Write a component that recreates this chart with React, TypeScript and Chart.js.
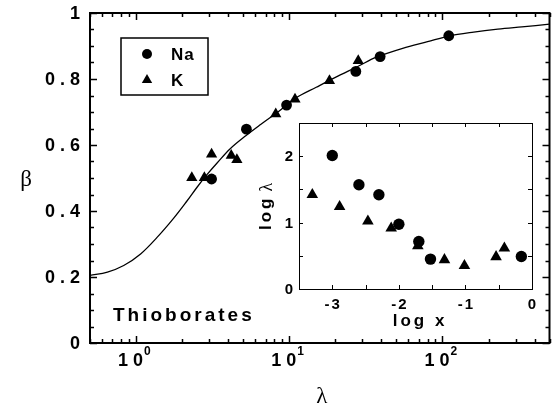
import React, { useEffect, useRef } from 'react';
import { Chart, registerables } from 'chart.js';

Chart.register(...registerables);

// ---- Main plot data (β vs λ) ----
const naLambda = [3.11, 5.25, 9.6, 27.2, 39.2, 110];
const naBeta = [0.497, 0.648, 0.721, 0.823, 0.868, 0.931];
const kLambda = [2.31, 2.79, 3.11, 4.18, 4.55, 8.16, 10.9, 18.3, 28.2];
const kBeta = [0.501, 0.501, 0.572, 0.568, 0.555, 0.694, 0.739, 0.795, 0.855];
const curveLambda = [0.5, 0.65, 0.83, 1.07, 1.37, 1.75, 2.13, 2.5, 2.9, 3.4, 4.1, 5.2, 6.5, 8.6, 11, 15, 20, 28, 37, 55, 80, 110, 160, 230, 330, 500];
const curveBeta = [0.205, 0.215, 0.235, 0.27, 0.32, 0.377, 0.428, 0.472, 0.51, 0.547, 0.588, 0.628, 0.662, 0.703, 0.742, 0.775, 0.805, 0.838, 0.866, 0.893, 0.913, 0.93, 0.942, 0.951, 0.958, 0.966];

// ---- Inset data (log λ vs log x) ----
const insetNaLogX = [-3.0, -2.6, -2.3, -2.0, -1.7, -1.525, -0.16];
const insetNaLogLambda = [2.01, 1.57, 1.42, 0.975, 0.715, 0.45, 0.49];
const insetKLogX = [-3.3, -2.89, -2.465, -2.115, -1.715, -1.315, -1.015, -0.54, -0.415];
const insetKLogLambda = [1.42, 1.24, 1.02, 0.915, 0.65, 0.44, 0.35, 0.485, 0.615];

// ---- Tick labels ----
const mainYTickValues = [0, 0.2, 0.4, 0.6, 0.8, 1];
const mainYTickLabels = ['0', '0.2', '0.4', '0.6', '0.8', '1'];
const mainXTickValues = [1, 10, 100];
const mainXTickExponents = ['0', '1', '2'];
const insetXTickValues = [-3, -2, -1, 0];
const insetXTickLabels = ['-3', '-2', '-1', '0'];
const insetYTickValues = [0, 1, 2];
const insetYTickLabels = ['0', '1', '2'];

const FONT = '"Liberation Sans", Arial, sans-serif';
const SERIF = '"Liberation Serif", "DejaVu Serif", serif';

function drawSpaced(ctx: CanvasRenderingContext2D, text: string, x: number, y: number, align: 'left' | 'right' | 'center', spacing: number) {
  ctx.save();
  (ctx as any).letterSpacing = spacing + 'px';
  ctx.textAlign = 'left';
  const w = ctx.measureText(text).width - spacing;
  let sx = x;
  if (align === 'right') sx = x - w;
  else if (align === 'center') sx = x - w / 2;
  ctx.fillText(text, sx, y);
  ctx.restore();
  return w;
}

function drawCircle(ctx: CanvasRenderingContext2D, x: number, y: number, r: number) {
  ctx.beginPath();
  ctx.arc(x, y, r, 0, Math.PI * 2);
  ctx.fill();
}

function drawTriangle(ctx: CanvasRenderingContext2D, x: number, y: number, r: number) {
  ctx.beginPath();
  for (let i = 0; i < 3; i++) {
    const a = -Math.PI / 2 + (i * 2 * Math.PI) / 3;
    const px = x + r * Math.cos(a);
    const py = y + r * Math.sin(a);
    if (i === 0) ctx.moveTo(px, py);
    else ctx.lineTo(px, py);
  }
  ctx.closePath();
  ctx.fill();
}

const mainPlugin = {
  id: 'mainDecor',
  afterDraw(chart: any) {
    const ctx: CanvasRenderingContext2D = chart.ctx;
    const { left, right, top, bottom } = chart.chartArea;
    const xs = chart.scales.x;
    const ys = chart.scales.y;
    ctx.save();
    ctx.strokeStyle = '#000';
    ctx.fillStyle = '#000';
    ctx.lineWidth = 2;
    ctx.strokeRect(left, top, right - left, bottom - top);
    ctx.lineWidth = 1.5;
    for (let i = 0; i <= 20; i++) {
      const v = i * 0.05;
      const py = Math.round(ys.getPixelForValue(v)) + 0.5;
      const len = i % 4 === 0 ? 7 : 4;
      ctx.beginPath();
      ctx.moveTo(left, py); ctx.lineTo(left + len, py);
      ctx.moveTo(right, py); ctx.lineTo(right - len, py);
      ctx.stroke();
    }
    for (let d = -1; d <= 2; d++) {
      for (let m = 1; m <= 9; m++) {
        const v = m * Math.pow(10, d);
        if (v < xs.min - 1e-9 || v > xs.max + 1e-9) continue;
        const px = Math.round(xs.getPixelForValue(v)) + 0.5;
        const len = m === 1 ? 7 : 4;
        ctx.beginPath();
        ctx.moveTo(px, bottom); ctx.lineTo(px, bottom - len);
        ctx.moveTo(px, top); ctx.lineTo(px, top + len);
        ctx.stroke();
      }
    }
    ctx.font = 'bold 18px ' + FONT;
    ctx.textBaseline = 'middle';
    mainYTickValues.forEach((v, i) => {
      drawSpaced(ctx, mainYTickLabels[i], 80, ys.getPixelForValue(v) + 1, 'right', 5);
    });
    mainXTickValues.forEach((v, i) => {
      const px = xs.getPixelForValue(v);
      ctx.font = 'bold 18px ' + FONT;
      ctx.textBaseline = 'middle';
      drawSpaced(ctx, '10', px + 7, 361, 'right', 5);
      ctx.font = 'bold 12px ' + FONT;
      drawSpaced(ctx, mainXTickExponents[i], px + 8, 352, 'left', 0);
    });
    ctx.font = '23px ' + SERIF;
    ctx.textAlign = 'center';
    ctx.textBaseline = 'middle';
    ctx.fillText('λ', (left + right) / 2 + 2, 397);
    ctx.fillText('β', 26, 180);
    ctx.font = 'bold 19px ' + FONT;
    ctx.textBaseline = 'middle';
    drawSpaced(ctx, 'Thioborates', 113, 316, 'left', 3);
    ctx.lineWidth = 1.5;
    ctx.strokeRect(121, 38, 87, 57);
    drawCircle(ctx, 147, 54, 5);
    drawTriangle(ctx, 147, 80, 6);
    ctx.font = 'bold 17px ' + FONT;
    ctx.textBaseline = 'middle';
    drawSpaced(ctx, 'Na', 171, 55, 'left', 1);
    drawSpaced(ctx, 'K', 171, 81, 'left', 1);
    ctx.restore();
  },
};

const insetPlugin = {
  id: 'insetDecor',
  afterDraw(chart: any) {
    const ctx: CanvasRenderingContext2D = chart.ctx;
    const { left, right, top, bottom } = chart.chartArea;
    const xs = chart.scales.x;
    const ys = chart.scales.y;
    ctx.save();
    ctx.strokeStyle = '#000';
    ctx.fillStyle = '#000';
    ctx.lineWidth = 1;
    ctx.strokeRect(Math.round(left) + 0.5, Math.round(top) + 0.5, Math.round(right - left), Math.round(bottom - top));
    for (let i = 0; i <= 7; i++) {
      const v = -3.5 + i * 0.5;
      const px = Math.round(xs.getPixelForValue(v)) + 0.5;
      ctx.beginPath();
      ctx.moveTo(px, bottom); ctx.lineTo(px, bottom - 4);
      ctx.moveTo(px, top); ctx.lineTo(px, top + 4);
      ctx.stroke();
    }
    for (let i = 0; i <= 5; i++) {
      const v = i * 0.5;
      const py = Math.round(ys.getPixelForValue(v)) + 0.5;
      ctx.beginPath();
      ctx.moveTo(left, py); ctx.lineTo(left + 4, py);
      ctx.moveTo(right, py); ctx.lineTo(right - 4, py);
      ctx.stroke();
    }
    ctx.font = 'bold 15px ' + FONT;
    ctx.textBaseline = 'middle';
    insetXTickValues.forEach((v, i) => {
      drawSpaced(ctx, insetXTickLabels[i], xs.getPixelForValue(v), bottom + 16, 'center', 2);
    });
    insetYTickValues.forEach((v, i) => {
      drawSpaced(ctx, insetYTickLabels[i], left - 6, ys.getPixelForValue(v) + 1, 'right', 0);
    });
    ctx.font = 'bold 17px ' + FONT;
    drawSpaced(ctx, 'log x', (left + right) / 2 + 3, bottom + 32, 'center', 3);
    ctx.save();
    ctx.translate(left - 33, (top + bottom) / 2 + 2);
    ctx.rotate(-Math.PI / 2);
    ctx.font = 'bold 17px ' + FONT;
    const w1 = drawSpaced(ctx, 'log', -22, 0, 'left', 3);
    ctx.font = '18px ' + SERIF;
    ctx.textAlign = 'left';
    ctx.fillText('λ', -22 + w1 + 7, 1);
    ctx.restore();
    ctx.restore();
  },
};

export default function App() {
  const mainRef = useRef<HTMLCanvasElement>(null);
  const insetRef = useRef<HTMLCanvasElement>(null);

  useEffect(() => {
    const main = new Chart(mainRef.current!, {
      type: 'scatter',
      data: {
        datasets: [
          {
            type: 'line',
            label: 'fit',
            data: curveLambda.map((x, i) => ({ x, y: curveBeta[i] })),
            borderColor: '#000',
            borderWidth: 1.3,
            pointRadius: 0,
            tension: 0.35,
            fill: false,
          } as any,
          {
            label: 'Na',
            data: naLambda.map((x, i) => ({ x, y: naBeta[i] })),
            pointStyle: 'circle',
            pointRadius: 5.4,
            backgroundColor: '#000',
            borderColor: '#000',
            borderWidth: 0,
            clip: false,
          } as any,
          {
            label: 'K',
            data: kLambda.map((x, i) => ({ x, y: kBeta[i] })),
            pointStyle: 'triangle',
            pointRadius: 6.5,
            backgroundColor: '#000',
            borderColor: '#000',
            borderWidth: 0,
            clip: false,
          } as any,
        ],
      },
      options: {
        responsive: false,
        animation: false,
        events: [],
        layout: { padding: { left: 90, top: 13, right: 2, bottom: 65 } },
        plugins: { legend: { display: false }, tooltip: { enabled: false } },
        scales: {
          x: { type: 'logarithmic', min: 0.5, max: 500, display: false },
          y: { type: 'linear', min: 0, max: 1, display: false },
        },
      },
      plugins: [mainPlugin],
    });

    const inset = new Chart(insetRef.current!, {
      type: 'scatter',
      data: {
        datasets: [
          {
            label: 'Na',
            data: insetNaLogX.map((x, i) => ({ x, y: insetNaLogLambda[i] })),
            pointStyle: 'circle',
            pointRadius: 5.7,
            backgroundColor: '#000',
            borderColor: '#000',
            borderWidth: 0,
            clip: false,
          } as any,
          {
            label: 'K',
            data: insetKLogX.map((x, i) => ({ x, y: insetKLogLambda[i] })),
            pointStyle: 'triangle',
            pointRadius: 6.7,
            backgroundColor: '#000',
            borderColor: '#000',
            borderWidth: 0,
            clip: false,
          } as any,
        ],
      },
      options: {
        responsive: false,
        animation: false,
        events: [],
        layout: { padding: { left: 44, top: 13, right: 13, bottom: 51 } },
        plugins: { legend: { display: false }, tooltip: { enabled: false } },
        scales: {
          x: { type: 'linear', min: -3.5, max: 0, display: false },
          y: { type: 'linear', min: 0, max: 2.5, display: false },
        },
      },
      plugins: [insetPlugin],
    });

    return () => {
      main.destroy();
      inset.destroy();
    };
  }, []);

  return (
    <div style={{ position: 'absolute', left: 0, top: 0, width: 556, height: 408, background: '#fff' }}>
      <canvas ref={mainRef} width={556} height={408} style={{ position: 'absolute', left: 0, top: 0 }} />
      <canvas ref={insetRef} width={290} height={230} style={{ position: 'absolute', left: 255, top: 110 }} />
    </div>
  );
}
